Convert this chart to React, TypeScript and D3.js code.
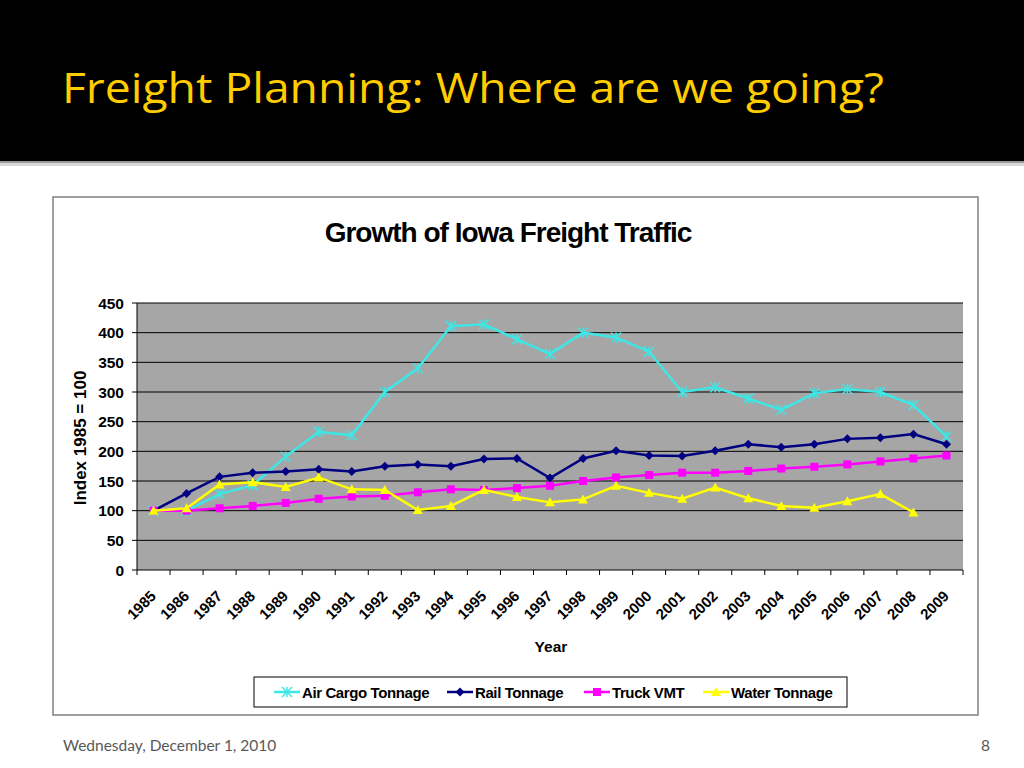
import React from "react";
import * as d3 from "d3";

const years = [
  "1985","1986","1987","1988","1989","1990","1991","1992","1993","1994","1995","1996","1997",
  "1998","1999","2000","2001","2002","2003","2004","2005","2006","2007","2008","2009",
];
const airCargo = [100,100,128,143,191,233,227,300,340,411,414,389,364,400,392,368,300,308,289,270,298,305,300,278,225];
const rail = [100,129,157,164,166,170,166,175,178,175,187,188,155,188,201,193,192,201,212,207,212,221,223,229,212];
const truck = [100,100,104,108,113,120,124,125,131,136,135,138,142,150,156,160,164,164,167,171,174,178,183,188,193];
const water: (number | null)[] = [100,104,144,148,140,156,136,135,101,108,135,123,114,119,142,130,120,139,121,108,105,116,128,97,null];
const yTicks = [0,50,100,150,200,250,300,350,400,450];

type Series = { name: string; values: (number | null)[]; color: string; marker: string };
const series: Series[] = [
  { name: "Air Cargo Tonnage", values: airCargo, color: "#3FE6E6", marker: "star" },
  { name: "Rail Tonnage", values: rail, color: "#000080", marker: "diamond" },
  { name: "Truck VMT", values: truck, color: "#FF00FF", marker: "square" },
  { name: "Water Tonnage", values: water, color: "#FFFF00", marker: "triangle" },
];
const legendX = [274, 447, 584, 703];

const arial = "'Liberation Sans', Arial, sans-serif";

function Marker({ type, x, y, color }: { type: string; x: number; y: number; color: string }) {
  const s = 4.5;
  if (type === "diamond") {
    return <path d={`M${x},${y - s}L${x + s},${y}L${x},${y + s}L${x - s},${y}Z`} fill={color} />;
  }
  if (type === "square") {
    return <rect x={x - 4} y={y - 4} width={8} height={8} fill={color} />;
  }
  if (type === "triangle") {
    return <path d={`M${x},${y - 5}L${x + 5},${y + 4}L${x - 5},${y + 4}Z`} fill={color} />;
  }
  return (
    <g stroke={color} strokeWidth={1.5}>
      <line x1={x - 5} y1={y - 5} x2={x + 5} y2={y + 5} />
      <line x1={x - 5} y1={y + 5} x2={x + 5} y2={y - 5} />
      <line x1={x} y1={y - 5} x2={x} y2={y + 5} />
    </g>
  );
}

export default function App() {
  const left = 137, right = 963, top = 303, bottom = 570;
  const x = d3.scaleBand<string>().domain(years).range([left, right]);
  const y = d3.scaleLinear().domain([0, 450]).range([bottom, top]);
  const cx = (yr: string) => (x(yr) as number) + x.bandwidth() / 2;

  const line = d3
    .line<number | null>()
    .defined((d) => d != null)
    .x((_, i) => cx(years[i]))
    .y((d) => y(d as number));

  const boundaries = years.map((yr) => x(yr) as number).concat([right]);

  return (
    <svg
      width={1024}
      height={768}
      style={{ position: "absolute", left: 0, top: 0, display: "block", background: "#fff" }}
    >
      {/* header */}
      <rect x={0} y={0} width={1024} height={161} fill="#000" />
      <rect x={0} y={161} width={1024} height={2} fill="#9a9a9a" />
      <rect x={0} y={163} width={1024} height={3} fill="#d8d8d8" />
      <text
        x={62}
        y={103}
        fill="#FFCC00"
        fontFamily="'Open Sans', Lato, sans-serif"
        fontSize={42}
        fontWeight={500}
        textLength={822}
        lengthAdjust="spacingAndGlyphs"
      >
        Freight Planning: Where are we going?
      </text>

      {/* chart frame */}
      <rect x={53} y={197} width={925} height={518} fill="#fff" stroke="#808080" strokeWidth={1.5} />
      <text x={508} y={242} textAnchor="middle" fontFamily={arial} fontWeight="bold" fontSize={28} letterSpacing={-1} fill="#000">
        Growth of Iowa Freight Traffic
      </text>

      {/* plot area */}
      <rect x={left} y={top} width={right - left} height={bottom - top} fill="#A6A6A6" />
      {yTicks.map((t) => (
        <line key={t} x1={left} x2={right} y1={y(t)} y2={y(t)} stroke="#000" strokeWidth={1} />
      ))}
      <line x1={left} x2={left} y1={top} y2={bottom} stroke="#000" strokeWidth={1} />
      {yTicks.map((t) => (
        <g key={"yt" + t}>
          <line x1={left - 5} x2={left} y1={y(t)} y2={y(t)} stroke="#000" />
          <text x={124} y={y(t) + 5.5} textAnchor="end" fontFamily={arial} fontWeight="bold" fontSize={15.5}>
            {t}
          </text>
        </g>
      ))}
      {boundaries.map((b, i) => (
        <line key={"xt" + i} x1={b} x2={b} y1={bottom} y2={bottom + 5} stroke="#000" />
      ))}
      {years.map((yr) => (
        <text
          key={yr}
          transform={`translate(${cx(yr) + 3.5},${bottom + 27}) rotate(-45)`}
          textAnchor="end"
          fontFamily={arial}
          fontWeight="bold"
          fontSize={15}
        >
          {yr}
        </text>
      ))}
      <text
        transform={`translate(86,438) rotate(-90)`}
        textAnchor="middle"
        fontFamily={arial}
        fontWeight="bold"
        fontSize={17}
      >
        Index 1985 = 100
      </text>
      <text x={551} y={652} textAnchor="middle" fontFamily={arial} fontWeight="bold" fontSize={15.5}>
        Year
      </text>

      {/* series */}
      {series.map((s) => (
        <g key={s.name}>
          <path d={line(s.values) || ""} fill="none" stroke={s.color} strokeWidth={2.5} />
          {s.values.map((v, i) =>
            v == null ? null : <Marker key={i} type={s.marker} x={cx(years[i])} y={y(v)} color={s.color} />
          )}
        </g>
      ))}

      {/* legend */}
      <rect x={254} y={677} width={593} height={30} fill="#fff" stroke="#000" strokeWidth={1} />
      {series.map((s, i) => (
        <g key={"lg" + s.name}>
          <line x1={legendX[i]} x2={legendX[i] + 26} y1={692} y2={692} stroke={s.color} strokeWidth={2.5} />
          <Marker type={s.marker} x={legendX[i] + 13} y={692} color={s.color} />
          <text x={legendX[i] + 28} y={697.5} fontFamily={arial} fontWeight="bold" fontSize={15} letterSpacing={-0.4}>
            {s.name}
          </text>
        </g>
      ))}

      {/* footer */}
      <text x={63} y={751} fontFamily="Lato, 'Open Sans', sans-serif" fontSize={15.5} fill="#595959">
        Wednesday, December 1, 2010
      </text>
      <text x={990} y={751} textAnchor="end" fontFamily="Lato, 'Open Sans', sans-serif" fontSize={15.5} fill="#595959">
        8
      </text>
    </svg>
  );
}
